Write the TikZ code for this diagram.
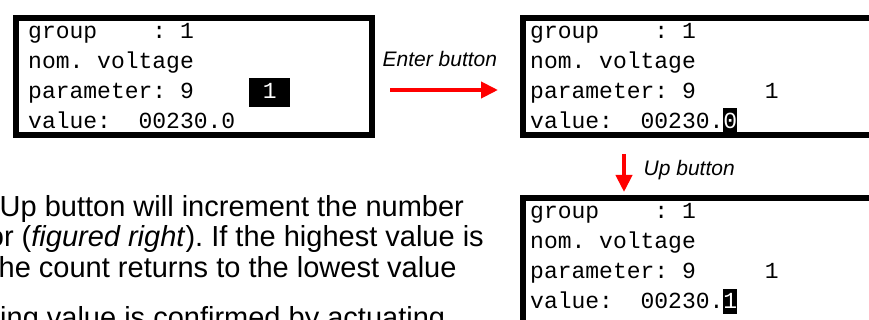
\documentclass[tikz,border=0pt]{standalone}
\usepackage{fontspec}
\setmainfont{Liberation Sans}
\newfontfamily\lcdfont{Liberation Mono}
\usetikzlibrary{arrows.meta}
\frenchspacing

\tikzset{
  lcd/.style={draw=black,line width=6pt,inner sep=0pt,anchor=north west},
  lcdline/.style={anchor=base west,inner sep=0pt,font=\lcdfont\fontsize{23}{28}\selectfont},
  cursor/.style={fill=black},
  redarrow/.style={draw=red,line width=4pt,-{Triangle[length=17pt,width=16pt]}},
  hint/.style={anchor=base west,inner sep=0pt,font=\fontsize{21}{25}\selectfont\itshape},
  bodyline/.style={anchor=base west,inner sep=0pt,font=\fontsize{29}{30}\selectfont}
}

\begin{document}
\begin{tikzpicture}[x=1pt,y=-1pt]
        \useasboundingbox(0,0)rectangle(869,320);
        \clip(0,0)rectangle(869,320);

        % cursors
        \fill[cursor](248.8,78)rectangle(290.2,107);
        \fill[cursor](723.2,108.5)rectangle(737,134);
        \fill[cursor](723.2,288.5)rectangle(737,314);

        % display before
        \node[lcdline](aGroup)at(28,38.5){group~~~~:~1};
        \node[lcdline](aNom)at(28,68.5){nom.~voltage};
        \node[lcdline](aPar)at(28,98.5){parameter:~9~~~~~\textcolor{white}{1}};
        \node[lcdline](aVal)at(28,128.5){value:~~00230.0};

        % display after enter
        \node[lcdline](bGroup)at(530,38.5){group~~~~:~1};
        \node[lcdline](bNom)at(530,68.5){nom.~voltage};
        \node[lcdline](bPar)at(530,98.5){parameter:~9~~~~~1};
        \node[lcdline](bVal)at(530,128.5){value:~~00230.\textcolor{white}{0}};

        % display after up
        \node[lcdline](cGroup)at(530,218.5){group~~~~:~1};
        \node[lcdline](cNom)at(530,248.5){nom.~voltage};
        \node[lcdline](cPar)at(530,278.5){parameter:~9~~~~~1};
        \node[lcdline](cVal)at(530,308.5){value:~~00230.\textcolor{white}{1}};

        \node[lcd,minimum width=356pt,minimum height=117pt](lcdA)at(13,15){};
        \node[lcd,minimum width=400pt,minimum height=117pt](lcdB)at(520,15){};
        \node[lcd,minimum width=400pt,minimum height=200pt](lcdC)at(520,195){};

        \draw[redarrow,shorten <=15pt,shorten >=22pt](lcdA.east|-0,90)--(lcdB.west|-0,90);
        \node[hint](enterLbl)at(382.5,66.7){Enter button};

        \coordinate(upFrom)at(624,154);
        \draw[redarrow,shorten >=3pt](upFrom)--(upFrom|-lcdC.north);
        \node[hint](upLbl)at(643.5,176){Up button};

        \node[bodyline](txtA)at(-0.5,217){Up button will increment the number};
        \node[bodyline](txtB)at(-12.3,247){or (\textit{figured right}). If the highest value is};
        \node[bodyline](txtC)at(-1.5,277){he count returns to the lowest value};
        \node[bodyline](txtD)at(0,327){ing value is confirmed by actuating};
    \end{tikzpicture}
\end{document}
